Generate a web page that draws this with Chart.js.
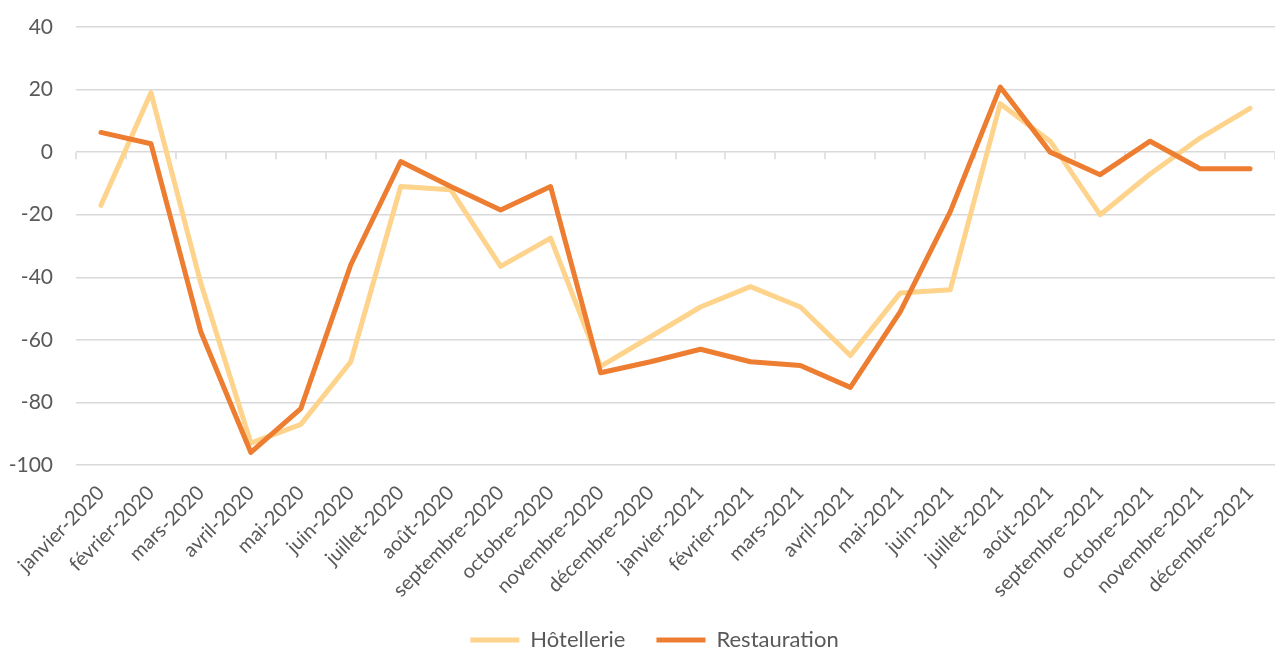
<!DOCTYPE html>
<html>
<head>
<meta charset="utf-8">
<script src="https://cdn.jsdelivr.net/npm/chart.js@4/dist/chart.umd.min.js"></script>
<style>
  html, body { margin: 0; padding: 0; background: #fff; overflow: hidden; }
  #wrap { width: 1275px; height: 650px; }
</style>
</head>
<body>
<div id="wrap"><canvas id="chart"></canvas></div>
<script>
var months = ['janvier-2020', 'février-2020', 'mars-2020', 'avril-2020', 'mai-2020', 'juin-2020',
    'juillet-2020', 'août-2020', 'septembre-2020', 'octobre-2020', 'novembre-2020', 'décembre-2020',
    'janvier-2021', 'février-2021', 'mars-2021', 'avril-2021', 'mai-2021', 'juin-2021',
    'juillet-2021', 'août-2021', 'septembre-2021', 'octobre-2021', 'novembre-2021', 'décembre-2021'];

var hotellerie = [-17, 19, -42, -93, -87, -67, -11, -12, -36.5, -27.5, -68.5, -59,
    -49.5, -43, -49.5, -65, -45, -44, 15.5, 3.5, -20, -7, 4.5, 14];

var restauration = [6.3, 2.7, -57.5, -96, -82, -36, -3, -11, -18.5, -11, -70.5, -67,
    -63, -67, -68.2, -75.2, -51, -19, 20.8, 0, -7.2, 3.5, -5.3, -5.3];

var yTicks = { min: -100, max: 40, step: 20 };

var textColor = '#595959';
var gridColor = '#d9d9d9';
var fontFamily = 'Lato, "Open Sans", sans-serif';

// small tick marks hanging under the zero line, between the months
var zeroTicks = {
    id: 'zeroTicks',
    beforeDatasetsDraw: function(chart) {
        var x = chart.scales.x, y = chart.scales.y, ctx = chart.ctx;
        var y0 = y.getPixelForValue(0);
        var step = (x.right - x.left) / months.length;
        ctx.save();
        ctx.strokeStyle = gridColor;
        ctx.lineWidth = 1.5;
        ctx.beginPath();
        for (var i = 0; i <= months.length; i++) {
            var px = Math.round(x.left + i * step);
            ctx.moveTo(px, y0);
            ctx.lineTo(px, y0 + 7);
        }
        ctx.stroke();
        ctx.restore();
    }
};

var layoutTweaks = {
    id: 'layoutTweaks',
    afterLayout: function(chart) {
        chart.legend.left += 34;      // legend sits a little right of centre
        chart.scales.x.bottom += 40;  // let the long rotated labels run past the box
    }
};

var chart = new Chart(document.getElementById('chart'), {
    type: 'line',
    data: {
        labels: months,
        datasets: [{
            label: 'Hôtellerie',
            data: hotellerie,
            borderColor: '#fed38c',
            backgroundColor: '#fed38c',
            borderWidth: 5,
            borderCapStyle: 'round',
            borderJoinStyle: 'round',
            pointRadius: 0,
            tension: 0,
            order: 1
        }, {
            label: 'Restauration',
            data: restauration,
            borderColor: '#ed7d31',
            backgroundColor: '#ed7d31',
            borderWidth: 5,
            borderCapStyle: 'round',
            borderJoinStyle: 'round',
            pointRadius: 0,
            tension: 0,
            order: 0
        }]
    },
    plugins: [zeroTicks, layoutTweaks],
    options: {
        responsive: true,
        maintainAspectRatio: false,
        animation: false,
        layout: {
            padding: { top: 27, left: 0, right: 0, bottom: -11 }
        },
        scales: {
            x: {
                offset: true,
                grid: { display: false, drawTicks: false },
                border: { display: false },
                ticks: {
                    minRotation: 45,
                    maxRotation: 45,
                    autoSkip: false,
                    padding: 16,
                    color: textColor,
                    font: { family: fontFamily, size: 20 }
                },
                afterFit: function(scale) {
                    scale.height = 133;
                    scale.paddingLeft = 0;
                    scale.paddingRight = 0;
                }
            },
            y: {
                min: yTicks.min,
                max: yTicks.max,
                ticks: {
                    stepSize: yTicks.step,
                    padding: 23,
                    color: textColor,
                    font: { family: fontFamily, size: 21 }
                },
                grid: {
                    color: gridColor,
                    lineWidth: 1.5,
                    drawTicks: false
                },
                border: { display: false },
                afterFit: function(scale) {
                    scale.width = 76;
                    scale.paddingTop = 0;
                    scale.paddingBottom = 0;
                }
            }
        },
        plugins: {
            legend: {
                position: 'bottom',
                labels: {
                    usePointStyle: true,
                    pointStyle: 'line',
                    pointStyleWidth: 49,
                    padding: 31,
                    color: textColor,
                    font: { family: fontFamily, size: 22 },
                    sort: function(a, b) { return a.datasetIndex - b.datasetIndex; }
                }
            },
            tooltip: { enabled: false }
        }
    }
});
</script>
</body>
</html>
